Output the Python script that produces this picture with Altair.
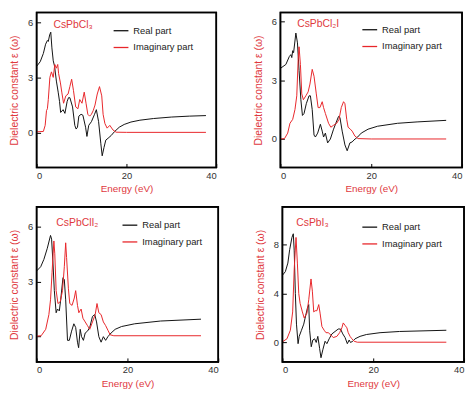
import altair as alt
import pandas as pd

RED_LINE = "#e8262a"
RED_TEXT = "#e0393e"
FONT = "Liberation Sans"

# ---------------- data (Energy eV, epsilon) ----------------
cl3_real = [(0,3.6),(0.8,3.85),(1.5,4.3),(2.0,4.8),(2.4,5.0),(2.6,4.95),(2.9,5.3),(3.15,5.45),(3.4,4.6),(3.7,3.9),
            (4.0,3.6),(4.4,2.8),(4.8,2.2),(5.1,1.7),(5.35,1.1),(5.9,1.25),(6.3,1.05),(6.8,1.7),(7.1,1.9),(7.4,1.9),
            (8.0,1.4),(8.5,0.4),(8.8,0.2),(9.1,0.3),(9.4,0.9),(9.9,1.0),(10.3,0.95),(10.9,0.3),(11.2,-0.2),(11.6,0.4),
            (12.2,0.6),(12.9,1.0),(13.3,1.25),(13.8,0.6),(14.3,-0.6),(14.6,-1.25),(15.0,-0.8),(15.4,-0.4),(15.9,-0.3),
            (16.6,-0.15),(17.3,0.05),(18.4,0.3),(19.5,0.45),(21,0.58),(23,0.68),(26,0.77),(30,0.85),(34,0.9),(37.7,0.93)]
cl3_imag = [(0,0.05),(1.5,0.07),(1.9,0.4),(2.2,1.2),(2.4,1.3),(2.6,1.8),(2.95,3.0),(3.3,3.3),(3.7,3.0),(4.05,3.7),
            (4.4,3.5),(4.7,3.7),(4.9,3.2),(5.3,2.7),(5.6,2.2),(6.0,1.6),(6.5,2.0),(7.0,2.1),(7.4,2.5),(7.8,2.9),
            (8.2,2.3),(8.7,1.4),(9.2,1.3),(9.6,1.8),(10.1,1.6),(10.6,2.2),(11.0,1.6),(11.4,1.0),(11.8,0.9),(12.2,1.0),
            (12.6,1.2),(13.0,1.5),(13.5,2.1),(14.0,2.5),(14.5,2.0),(14.8,1.0),(15.2,0.5),(15.7,0.25),(16.3,0.4),
            (17.0,0.15),(17.7,0.03),(20,0.02),(37.7,0.02)]

cl2i_real = [(0,3.6),(1.2,3.8),(1.95,4.2),(2.3,4.3),(2.5,4.15),(2.7,4.5),(2.9,4.4),(3.4,5.4),(3.75,4.9),(4.1,3.5),
             (4.5,2.0),(4.85,1.2),(5.2,1.3),(5.7,1.8),(6.3,2.2),(6.6,2.2),(7.0,1.5),(7.4,0.2),(7.7,0.1),(8.2,0.3),
             (8.8,0.75),(9.2,0.4),(9.5,0.1),(9.9,0.3),(10.4,-0.2),(11.0,0.0),(11.7,0.5),(12.2,0.8),(12.8,1.15),(13.1,1.1),
             (13.6,0.4),(14.2,-0.3),(14.7,-0.6),(15.3,-0.2),(15.8,-0.15),(16.2,-0.05),(17.0,0.1),(17.8,0.3),(19.3,0.5),
             (21.4,0.65),(25.8,0.8),(30.1,0.87),(36.5,0.95)]
cl2i_imag = [(0,0.0),(0.9,0.02),(1.6,0.3),(2.1,0.8),(2.7,1.0),(3.2,1.5),(3.6,2.2),(3.9,4.0),(4.1,4.7),(4.4,3.8),
             (4.7,2.3),(5.05,2.0),(5.6,2.2),(6.1,2.4),(6.5,2.8),(7.0,3.55),(7.4,3.2),(7.9,2.3),(8.3,1.6),(8.7,1.6),
             (9.2,1.9),(9.5,1.6),(9.9,1.3),(10.6,0.8),(11.1,0.6),(11.7,0.7),(12.4,0.8),(12.9,1.0),(13.4,1.6),(13.9,1.9),
             (14.2,1.8),(14.6,1.0),(14.9,0.6),(15.4,0.5),(15.8,0.4),(16.4,0.15),(17.1,0.02),(20,0.0),(36.5,0.0)]

cli2_real = [(0,3.57),(0.9,3.8),(1.6,4.2),(2.35,4.8),(3.06,5.5),(3.3,5.3),(3.6,4.0),(3.9,2.5),(4.3,1.3),(4.6,1.5),
             (5.0,1.4),(5.3,2.0),(5.8,3.2),(6.1,3.1),(6.4,2.0),(6.8,-0.2),(7.2,-0.2),(7.7,0.3),(8.2,0.7),(8.6,0.5),
             (9.0,-0.3),(9.25,-0.6),(9.6,0.4),(9.9,0.0),(10.3,-0.2),(10.7,0.2),(11.2,0.3),(11.7,0.5),(12.3,1.1),
             (12.8,1.2),(13.2,0.8),(13.7,0.0),(14.2,-0.3),(14.7,0.0),(15.2,-0.2),(15.7,0.0),(16.4,0.2),(17.3,0.4),
             (18.7,0.55),(21.6,0.7),(27.3,0.85),(36.2,0.95)]
cli2_imag = [(0,0.03),(1.0,0.05),(2.0,0.4),(2.7,1.2),(3.06,2.0),(3.4,3.5),(3.8,5.2),(4.0,4.5),(4.3,2.5),(4.7,1.8),
             (5.2,1.9),(5.7,2.5),(6.1,3.8),(6.4,5.1),(6.6,4.3),(7.0,2.6),(7.3,1.8),(7.8,1.7),(8.3,2.1),(8.6,2.5),
             (9.0,1.7),(9.3,1.3),(9.8,1.5),(10.2,1.0),(10.7,0.8),(11.2,0.6),(11.7,0.4),(12.3,0.8),(12.9,1.2),(13.3,1.8),
             (13.7,1.3),(14.2,1.2),(14.7,0.8),(15.2,0.6),(15.7,0.35),(16.2,0.1),(17,0.05),(36.2,0.05)]

i3_real = [(0,5.5),(0.65,5.8),(1.2,6.5),(1.6,7.6),(2.1,8.6),(2.4,8.9),(2.6,7.5),(2.85,4.0),(3.1,1.5),(3.45,-0.1),
           (3.7,0.5),(4.2,1.0),(4.7,1.5),(5.0,2.0),(5.5,2.8),(5.8,3.1),(6.0,1.0),(6.35,-0.35),(6.7,0.2),(7.1,0.3),
           (7.45,0.0),(7.8,0.5),(8.2,-0.5),(8.5,-1.25),(8.9,-0.6),(9.4,0.1),(9.8,-0.1),(10.3,0.3),(10.9,0.7),(11.6,0.9),
           (12.3,1.1),(12.8,1.1),(13.3,0.7),(13.8,0.4),(14.3,-0.1),(14.7,0.2),(15.0,0.0),(15.5,0.1),(16.0,0.3),
           (17.1,0.5),(18.5,0.65),(21.5,0.8),(25.8,0.9),(36.1,1.0)]
i3_imag = [(0,0.05),(1.0,0.3),(1.75,1.0),(2.26,2.5),(2.6,6.0),(3.0,8.6),(3.3,6.5),(3.6,4.0),(3.9,3.2),(4.4,2.5),
           (4.8,2.0),(5.4,2.4),(5.8,3.5),(6.3,5.2),(6.6,4.2),(6.9,2.5),(7.2,2.6),(7.6,2.6),(8.0,3.1),(8.3,2.4),
           (8.7,1.3),(9.2,1.0),(9.6,0.8),(10.1,0.8),(10.7,0.6),(11.2,0.4),(12.0,0.5),(12.6,0.8),(13.1,1.2),(13.4,1.6),
           (13.8,1.4),(14.2,1.2),(14.5,0.8),(14.9,0.5),(15.3,0.3),(15.8,0.1),(16.5,0.02),(36.1,0.02)]

names = ["CsPbCl₃", "CsPbCl₂I", "CsPbClI₂", "CsPbI₃"]
y_domains = [[-1.88, 6.52], [-1.45, 6.45], [-1.37, 7.05], [-1.59, 11.1]]
y_ticks = [[0, 3, 6], [0, 3, 6], [0, 3, 6], [0, 4, 8]]
x_ticks = [0, 20, 40]
parts = ["Real part", "Imaginary part"]

H = 157


def panel(name, real, imag, ydom, yticks, width, legx, legy, labx, laby):
    rows = [{"E": e, "eps": v, "part": parts[0]} for e, v in real] + \
           [{"E": e, "eps": v, "part": parts[1]} for e, v in imag]
    df = pd.DataFrame(rows)
    lines = alt.Chart(df).mark_line(strokeWidth=1, clip=True).encode(
        x=alt.X("E:Q", scale=alt.Scale(domain=[0, 40], nice=False),
                axis=alt.Axis(values=x_ticks, title="Energy (eV)", format="d",
                              domain=False, grid=False, offset=-4, tickSize=4,
                              tickColor="#000", labelPadding=3, titlePadding=4,
                              labelColor="#333", labelFontSize=9.5, titleFontSize=10,
                              titleColor=RED_TEXT, titleFontWeight="normal",
                              labelFont=FONT, titleFont=FONT)),
        y=alt.Y("eps:Q", scale=alt.Scale(domain=ydom, nice=False, zero=False),
                axis=alt.Axis(values=yticks, title="Dielectric constant ε (ω)", format="d",
                              domain=False, grid=False, offset=-4, tickSize=4,
                              tickColor="#000", labelPadding=4, titlePadding=8,
                              labelColor="#333", labelFontSize=9.5, titleFontSize=10.5,
                              titleColor=RED_TEXT, titleFontWeight="normal",
                              labelFont=FONT, titleFont=FONT)),
        color=alt.Color("part:N", sort=parts,
                        scale=alt.Scale(domain=parts, range=["#111111", RED_LINE]),
                        legend=alt.Legend(orient="none", legendX=legx, legendY=legy, title=None,
                                          symbolType="stroke", symbolSize=225, symbolStrokeWidth=1.3,
                                          labelFontSize=9.5, labelColor="#222", labelFont=FONT,
                                          rowPadding=4, padding=0, labelOffset=4)),
    )
    label = alt.Chart(pd.DataFrame({"t": [name]})).mark_text(
        align="left", baseline="middle", color=RED_TEXT, fontSize=10.5, font=FONT
    ).encode(x=alt.value(labx), y=alt.value(laby), text="t:N")
    frame = alt.Chart(pd.DataFrame({"f": [0]})).mark_rect(
        fill=None, fillOpacity=0, stroke="#000", strokeWidth=1.6
    ).encode(x=alt.value(0), x2=alt.value(width), y=alt.value(0), y2=alt.value(H))
    return alt.layer(lines, label, frame).properties(width=width, height=H)


p1 = panel(names[0], cl3_real, cl3_imag, y_domains[0], y_ticks[0], 182, 77, 10, 17, 13)
p2 = panel(names[1], cl2i_real, cl2i_imag, y_domains[1], y_ticks[1], 184, 82, 9, 17, 12)
p3 = panel(names[2], cli2_real, cli2_imag, y_domains[2], y_ticks[2], 184, 86, 10, 20, 16)
p4 = panel(names[3], i3_real, i3_imag, y_domains[3], y_ticks[3], 184, 80, 12, 14, 16)

row1 = alt.hconcat(p1, p2, spacing=34).resolve_scale(color="independent").resolve_legend(color="independent")
row2 = alt.hconcat(p3, p4, spacing=34).resolve_scale(color="independent").resolve_legend(color="independent")

chart = alt.vconcat(row1, row2, spacing=10).resolve_scale(
    color="independent").resolve_legend(color="independent").properties(
    padding=0, background="white"
).configure_view(stroke="#000", strokeWidth=1.6)

chart.save("out.html", embed_options={"renderer": "svg", "actions": False})
